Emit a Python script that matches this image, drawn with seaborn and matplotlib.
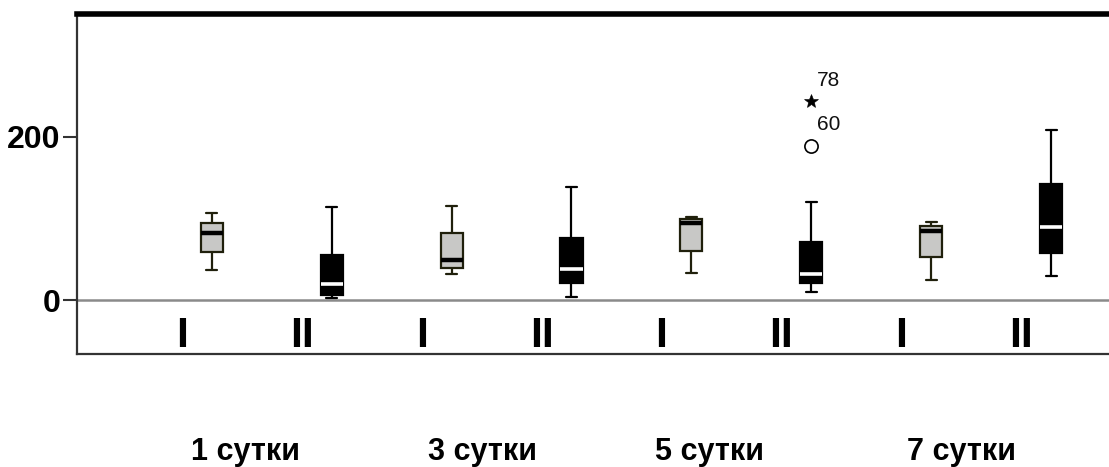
import numpy as np
import pandas as pd
import matplotlib
matplotlib.use("Agg")
import matplotlib.pyplot as plt
import matplotlib.transforms as mtransforms
import seaborn as sns

# ---- data ----
days = ["1 сутки", "3 сутки", "5 сутки", "7 сутки"]
groups = ["I", "II"]
whislo = [37, 3, 32, 4, 33, 10, 24, 29]
q1 = [59, 6, 39, 21, 60, 21, 53, 58]
med = [82, 20, 49, 38, 94, 32, 84, 89]
q3 = [94, 55, 82, 76, 99, 71, 90, 142]
whishi = [107, 114, 115, 138, 102, 120, 95, 208]
outlier_box = [5, 5]
outlier_values = [189, 243]
outlier_markers = ["o", "*"]
outlier_labels = ["60", "78"]
yticks = [0, 200]

# ---- style ----
sns.set_theme(style="white")
FONT = ["Liberation Sans Narrow", "Liberation Sans", "DejaVu Sans"]
plt.rcParams["font.family"] = FONT

rows = []
for i in range(len(med)):
    for v in (whislo[i], q1[i], med[i], q3[i], whishi[i]):
        rows.append({"pos": i, "grp": groups[i % 2], "val": v})
df = pd.DataFrame(rows)

W, H = 1109, 467
fig = plt.figure(figsize=(W / 100, H / 100), dpi=100)
ax = fig.add_axes([77 / W, 1 - 354 / H, 1 - 77 / W, (354 - 14) / H])

ax.axhline(0, color="#8a8a8a", lw=1.8, zorder=0.5)

common = dict(x="pos", y="val", native_scale=True, whis=(0, 100), showfliers=False,
              width=0.092, linewidth=1.6, saturation=1)
sns.boxplot(data=df[df.grp == "I"], ax=ax, color="#c8c8c6", linecolor="#20200c",
            medianprops=dict(color="black", linewidth=3.2), **common)
sns.boxplot(data=df[df.grp == "II"], ax=ax, color="black", linecolor="black",
            medianprops=dict(color="white", linewidth=2.6), **common)

# outliers
for b, v, m, lab in zip(outlier_box, outlier_values, outlier_markers, outlier_labels):
    if m == "o":
        ax.plot(b, v, marker="o", ms=9.5, mfc="none", mec="black", mew=1.2, zorder=5)
    else:
        ax.plot(b, v, marker="*", ms=10, mfc="black", mec="black", mew=0.4, zorder=5)
    ax.annotate(lab, (b, v), xytext=(4.3, 11), textcoords="offset points",
                fontsize=15, ha="left", va="baseline", color="#111111")

# group labels I / II inside the axes, below zero
for i in range(len(med)):
    ax.text(i - 0.25, -57, groups[i % 2], ha="center", va="baseline",
            fontsize=31, fontweight="bold", color="black")

# day labels below the axes
day_label_x = [0.285, 2.26, 4.15, 6.25]
trans = mtransforms.blended_transform_factory(ax.transData, fig.transFigure)
for x, d in zip(day_label_x, days):
    ax.text(x, 1 - 460 / H, d, transform=trans, ha="center", va="baseline",
            fontsize=22, fontweight="bold", color="black", clip_on=False)

# axes
ax.set_xlim(-1.124, 7.483)
ax.set_ylim(-66, 350)
ax.set_xticks([])
ax.set_yticks(yticks)
ax.set_yticklabels([str(t) for t in yticks], fontsize=23, fontweight="bold")
ax.tick_params(axis="y", left=True, length=10, width=1.5, color="#333333",
               labelcolor="black", pad=2)
ax.set_xlabel("")
ax.set_ylabel("")
for s in ("left", "bottom"):
    ax.spines[s].set_visible(True)
    ax.spines[s].set_color("#333333")
    ax.spines[s].set_linewidth(1.6)
ax.spines["top"].set_color("black")
ax.spines["top"].set_linewidth(4.0)
ax.spines["right"].set_visible(False)

fig.savefig("out.png", dpi=100)
